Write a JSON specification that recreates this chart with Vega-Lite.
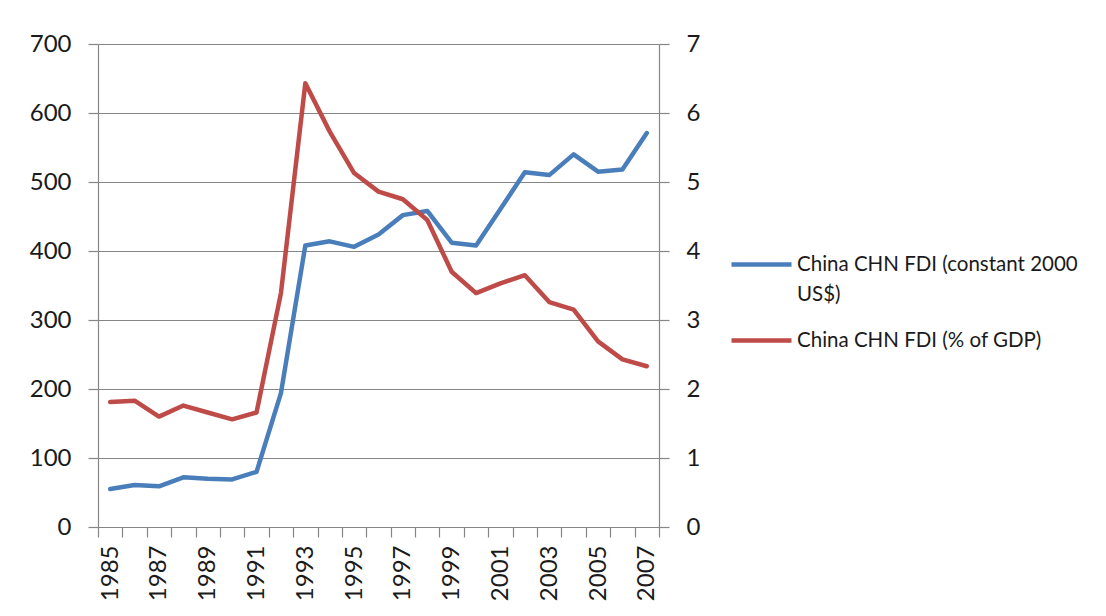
{
  "$schema": "https://vega.github.io/schema/vega-lite/v6.json",
  "width": 561,
  "height": 483,
  "autosize": {"type": "none"},
  "padding": {"left": 98, "top": 44, "right": 447, "bottom": 89},
  "background": "white",
  "config": {
    "font": "Lato",
    "view": {"stroke": null},
    "style": {"guide-label": {"lineHeight": 30}},
    "axis": {
      "labelFont": "Lato",
      "labelFontSize": 24,
      "labelColor": "#1a1a1a",
      "domainColor": "#868686",
      "tickColor": "#868686",
      "gridColor": "#868686",
      "domainWidth": 1.2,
      "tickWidth": 1.2,
      "gridWidth": 1.2,
      "tickSize": 10,
      "title": null
    }
  },
  "data": {
    "values": [
      {"year": 1985, "usd": 55, "gdp": 1.81},
      {"year": 1986, "usd": 61, "gdp": 1.83},
      {"year": 1987, "usd": 59, "gdp": 1.6},
      {"year": 1988, "usd": 72, "gdp": 1.76},
      {"year": 1989, "usd": 70, "gdp": 1.66},
      {"year": 1990, "usd": 69, "gdp": 1.56},
      {"year": 1991, "usd": 80, "gdp": 1.66},
      {"year": 1992, "usd": 194, "gdp": 3.39},
      {"year": 1993, "usd": 408, "gdp": 6.43},
      {"year": 1994, "usd": 414, "gdp": 5.73},
      {"year": 1995, "usd": 406, "gdp": 5.13},
      {"year": 1996, "usd": 424, "gdp": 4.86},
      {"year": 1997, "usd": 452, "gdp": 4.75},
      {"year": 1998, "usd": 458, "gdp": 4.45},
      {"year": 1999, "usd": 412, "gdp": 3.7},
      {"year": 2000, "usd": 408, "gdp": 3.39},
      {"year": 2001, "usd": 461, "gdp": 3.53},
      {"year": 2002, "usd": 514, "gdp": 3.65},
      {"year": 2003, "usd": 510, "gdp": 3.26},
      {"year": 2004, "usd": 540, "gdp": 3.15},
      {"year": 2005, "usd": 515, "gdp": 2.69},
      {"year": 2006, "usd": 518, "gdp": 2.43},
      {"year": 2007, "usd": 571, "gdp": 2.33}
    ]
  },
  "encoding": {
    "x": {
      "field": "year",
      "type": "ordinal",
      "scale": {"type": "band", "paddingInner": 0, "paddingOuter": 0},
      "axis": {
        "labelAngle": -90,
        "labelExpr": "datum.value % 2 == 1 ? datum.label : ''",
        "tickBand": "extent",
        "labelPadding": 8,
        "grid": false
      }
    }
  },
  "layer": [
    {
      "mark": {"type": "line", "strokeWidth": 4.5, "strokeJoin": "round", "strokeCap": "round"},
      "encoding": {
        "y": {
          "field": "usd",
          "type": "quantitative",
          "scale": {"domain": [0, 700]},
          "axis": {"orient": "left", "values": [0, 100, 200, 300, 400, 500, 600, 700], "grid": true, "labelPadding": 17}
        },
        "color": {
          "datum": "China CHN FDI (constant 2000 US$)",
          "scale": {
            "domain": ["China CHN FDI (constant 2000 US$)", "China CHN FDI (% of GDP)"],
            "range": ["#4A7EBB", "#BE4B48"]
          },
          "legend": {
            "title": null,
            "orient": "none",
            "legendX": 631,
            "legendY": 188,
            "symbolType": "stroke",
            "symbolSize": 3600,
            "symbolStrokeWidth": 4.5,
            "labelFont": "Lato",
            "labelFontSize": 20.5,
            "labelColor": "#1a1a1a",
            "labelLimit": 400,
            "labelOffset": 3,
            "rowPadding": 3,
            "labelExpr": "datum.label == 'China CHN FDI (constant 2000 US$)' ? ['China CHN FDI (constant 2000', 'US$)'] : datum.label"
          }
        }
      }
    },
    {
      "mark": {"type": "line", "strokeWidth": 4.5, "strokeJoin": "round", "strokeCap": "round"},
      "encoding": {
        "y": {
          "field": "gdp",
          "type": "quantitative",
          "scale": {"domain": [0, 7]},
          "axis": {"orient": "right", "values": [0, 1, 2, 3, 4, 5, 6, 7], "grid": false, "labelPadding": 17}
        },
        "color": {"datum": "China CHN FDI (% of GDP)"}
      }
    }
  ],
  "resolve": {"scale": {"y": "independent"}}
}
